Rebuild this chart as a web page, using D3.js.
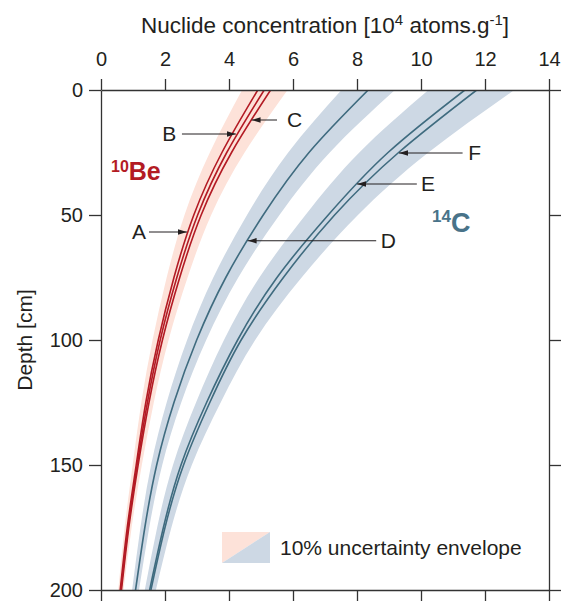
<!DOCTYPE html>
<html>

<head>
  <meta charset="utf-8" />
  <title>Nuclide depth profiles</title>
  <style>
    body {
      margin: 0;
      background: white;
    }

    svg text {
      font-family: "Liberation Sans", Arial, Helvetica, sans-serif;
      fill: #231f20;
    }

    .domain,
    .tick line {
      stroke: #333;
      stroke-width: 1.3px;
    }
  </style>
</head>

<body>
  <svg></svg>

  <script src="https://d3js.org/d3.v7.min.js"></script>
  <script>
    var width = 563,
      height = 601;

    // depth in cm, concentrations in 10^4 atoms/g
    var depths = [0, 25, 50, 75, 100, 125, 150, 175, 200];
    var beA = [4.90, 3.78, 2.90, 2.28, 1.79, 1.40, 1.10, 0.82, 0.60];
    var beB = [5.10, 3.93, 3.02, 2.37, 1.85, 1.45, 1.13, 0.85, 0.62];
    var beC = [5.30, 4.08, 3.13, 2.46, 1.92, 1.50, 1.16, 0.87, 0.64];
    var cD = [8.35, 6.50, 5.07, 3.90, 2.99, 2.28, 1.74, 1.37, 1.08];
    var cE = [11.37, 8.97, 7.10, 5.50, 4.27, 3.30, 2.50, 1.95, 1.52];
    var cF = [11.74, 9.30, 7.30, 5.70, 4.38, 3.40, 2.58, 2.00, 1.56];

    var xTicks = [0, 2, 4, 6, 8, 10, 12, 14];
    var yTicks = [0, 50, 100, 150, 200];

    // arrow labels: which curve, depth the arrow hits, where the label sits
    var labelNames = ["A", "B", "C", "D", "E", "F"];
    var labelCurves = [beA, beB, beC, cD, cE, cF];
    var labelDepths = [56.8, 17.6, 12, 60.3, 37.6, 25.2];
    var labelConc = [1.19, 2.13, 6.05, 8.98, 10.22, 11.68];
    var labelTail = [1.5, 2.53, 5.5, 8.6, 9.87, 11.3];

    var red = "#b31b24",
      blue = "#3f6b7f",
      pink = "#fde2d9",
      paleBlue = "#cdd8e4";

    var margin = { left: 101, right: 14, top: 90, bottom: 11 };
    var x = d3.scaleLinear().domain([0, 14]).range([margin.left, width - margin.right]);
    var y = d3.scaleLinear().domain([0, 200]).range([margin.top, height - margin.bottom]);

    var svg = d3.select("svg")
      .attr("width", width)
      .attr("height", height);

    svg.append("clipPath").attr("id", "plot")
      .append("rect")
      .attr("x", x(0)).attr("y", y(0))
      .attr("width", x(14) - x(0)).attr("height", y(200) - y(0));

    var plot = svg.append("g").attr("clip-path", "url(#plot)");

    function band(lo, hi) {
      return d3.area()
        .curve(d3.curveNatural)
        .y((d, i) => y(d))
        .x0((d, i) => x(lo[i] * 0.9))
        .x1((d, i) => x(hi[i] * 1.1))(depths);
    }
    var line = function (vals) {
      return d3.line()
        .curve(d3.curveNatural)
        .y(d => y(d))
        .x((d, i) => x(vals[i]))(depths);
    };

    // 10% envelopes
    plot.append("path").attr("d", band(beA, beC)).attr("fill", pink);
    plot.append("path").attr("d", band(cD, cD)).attr("fill", paleBlue);
    plot.append("path").attr("d", band(cE, cF)).attr("fill", paleBlue);

    [beA, beB, beC].forEach(function (v) {
      plot.append("path").attr("d", line(v))
        .attr("fill", "none").attr("stroke", red).attr("stroke-width", 1.6);
    });
    [cD, cE, cF].forEach(function (v) {
      plot.append("path").attr("d", line(v))
        .attr("fill", "none").attr("stroke", blue).attr("stroke-width", 1.6);
    });

    // axes, ticks pointing outwards on all four sides
    svg.append("g").attr("transform", "translate(0," + y(0) + ")")
      .call(d3.axisTop(x).tickValues(xTicks).tickSize(11).tickPadding(13).tickSizeOuter(0));
    svg.append("g").attr("transform", "translate(" + x(0) + ",0)")
      .call(d3.axisLeft(y).tickValues(yTicks).tickSize(12).tickPadding(6).tickSizeOuter(0));
    svg.append("g").attr("transform", "translate(0," + y(200) + ")")
      .call(d3.axisBottom(x).tickValues(xTicks).tickSize(11).tickFormat("").tickSizeOuter(0));
    svg.append("g").attr("transform", "translate(" + x(14) + ",0)")
      .call(d3.axisRight(y).tickValues(yTicks).tickSize(12).tickFormat("").tickSizeOuter(0));
    svg.selectAll(".tick text")
      .attr("font-size", 20)
      .attr("font-family", null)
      .attr("fill", "#231f20");

    // axis titles
    var title = svg.append("text")
      .attr("x", (x(0) + x(14)) / 2)
      .attr("y", 33)
      .attr("text-anchor", "middle")
      .attr("font-size", 22.5);
    title.append("tspan").text("Nuclide concentration [10");
    title.append("tspan").attr("dy", -8).attr("font-size", 15).text("4");
    title.append("tspan").attr("dy", 8).text(" atoms.g");
    title.append("tspan").attr("dy", -8).attr("font-size", 15).text("-1");
    title.append("tspan").attr("dy", 8).text("]");

    svg.append("text")
      .attr("transform", "translate(32," + (y(0) + y(200)) / 2 + ") rotate(-90)")
      .attr("text-anchor", "middle")
      .attr("font-size", 21)
      .text("Depth [cm]");

    // arrows from letters to their curves
    svg.append("defs").append("marker")
      .attr("id", "head")
      .attr("viewBox", "0 0 10 6")
      .attr("refX", 10).attr("refY", 3)
      .attr("markerWidth", 9).attr("markerHeight", 6)
      .attr("markerUnits", "userSpaceOnUse")
      .attr("orient", "auto")
      .append("path").attr("d", "M0,0L10,3L0,6Z").attr("fill", "#231f20");

    function valueAt(vals, depth) {
      // log-linear between the read points (profiles are near exponential)
      var i = Math.min(d3.bisectRight(depths, depth), depths.length - 1);
      var t = (depth - depths[i - 1]) / (depths[i] - depths[i - 1]);
      return Math.exp(Math.log(vals[i - 1]) * (1 - t) + Math.log(vals[i]) * t);
    }

    labelNames.forEach(function (name, k) {
      var yy = y(labelDepths[k]);
      var tip = x(valueAt(labelCurves[k], labelDepths[k]));
      var tail = x(labelTail[k]);
      svg.append("line")
        .attr("x1", tail).attr("y1", yy)
        .attr("x2", tip + (tip > tail ? -1 : 1)).attr("y2", yy)
        .attr("stroke", "#231f20").attr("stroke-width", 1)
        .attr("marker-end", "url(#head)");
      svg.append("text")
        .attr("x", x(labelConc[k]))
        .attr("y", yy)
        .attr("dy", "0.35em")
        .attr("text-anchor", "middle")
        .attr("font-size", 21)
        .text(name);
    });

    // nuclide names
    var be = svg.append("text").attr("x", 111).attr("y", 180)
      .attr("font-weight", "bold");
    be.append("tspan").attr("font-size", 16).attr("dy", -8).style("fill", red).text("10");
    be.append("tspan").attr("font-size", 25).attr("dy", 8).style("fill", red).text("Be");

    var c14 = svg.append("text").attr("x", 432).attr("y", 232)
      .attr("font-weight", "bold");
    c14.append("tspan").attr("font-size", 17).attr("dy", -10).style("fill", "#497389").text("14");
    c14.append("tspan").attr("font-size", 27).attr("dy", 10).style("fill", "#497389").text("C");

    // legend: split swatch
    var lx = 222, ly = 532, lw = 48, lh = 31;
    svg.append("path")
      .attr("d", "M" + lx + "," + ly + "h" + lw + "L" + lx + "," + (ly + lh) + "Z")
      .attr("fill", pink);
    svg.append("path")
      .attr("d", "M" + (lx + lw) + "," + ly + "v" + lh + "h" + (-lw) + "Z")
      .attr("fill", paleBlue);
    svg.append("text")
      .attr("x", 280).attr("y", 555)
      .attr("font-size", 21)
      .text("10% uncertainty envelope");
  </script>
</body>

</html>
